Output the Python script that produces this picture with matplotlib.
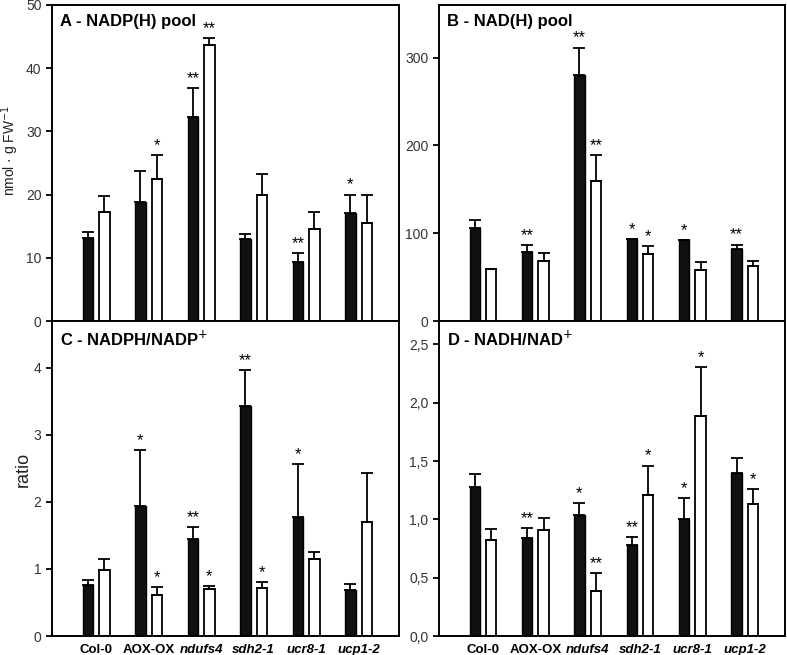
import matplotlib
matplotlib.use('Agg')
import matplotlib.pyplot as plt
import numpy as np

plt.rcParams['font.family'] = ['Liberation Sans', 'DejaVu Sans']

lines = ['Col-0', 'AOX-OX', 'ndufs4', 'sdh2-1', 'ucr8-1', 'ucp1-2']
italic = [False, False, True, True, True, True]

# A - NADP(H) pool
a_black = [13.2, 18.8, 32.2, 12.9, 9.3, 17.05]
a_black_err = [0.85, 5.0, 4.7, 0.9, 1.4, 2.95]
a_white = [17.3, 22.5, 43.7, 19.9, 14.6, 15.5]
a_white_err = [2.4, 3.8, 1.1, 3.3, 2.6, 4.5]
a_black_sig = ['', '', '**', '', '**', '*']
a_white_sig = ['', '*', '**', '', '', '']

# B - NAD(H) pool
b_black = [106, 78.6, 280, 93.4, 92, 82.4]
b_black_err = [8.7, 7.6, 31.4, 0, 0, 4.6]
b_white = [59.6, 68.4, 159.5, 76, 57.7, 62.7]
b_white_err = [0, 8.6, 29.3, 9, 9.9, 5.7]
b_black_sig = ['', '**', '**', '*', '*', '**']
b_white_sig = ['', '', '**', '*', '', '']

# C - NADPH/NADP+
c_black = [0.76, 1.94, 1.44, 3.43, 1.78, 0.68]
c_black_err = [0.075, 0.83, 0.19, 0.535, 0.79, 0.09]
c_white = [0.98, 0.615, 0.695, 0.72, 1.155, 1.705]
c_white_err = [0.165, 0.12, 0.055, 0.09, 0.095, 0.725]
c_black_sig = ['', '*', '**', '**', '*', '']
c_white_sig = ['', '*', '*', '*', '', '']

# D - NADH/NAD+
d_black = [1.277, 0.843, 1.034, 0.777, 1.0, 1.4]
d_black_err = [0.112, 0.08, 0.103, 0.069, 0.18, 0.126]
d_white = [0.826, 0.906, 0.389, 1.209, 1.889, 1.129]
d_white_err = [0.088, 0.108, 0.148, 0.251, 0.414, 0.128]
d_black_sig = ['', '**', '*', '**', '*', '']
d_white_sig = ['', '', '**', '*', '*', '*']

fig = plt.figure(figsize=(7.87, 6.55), dpi=100)
axA = fig.add_axes([0.0661, 0.5099, 0.4409, 0.4825])
axB = fig.add_axes([0.5578, 0.5099, 0.4397, 0.4825])
axC = fig.add_axes([0.0661, 0.029, 0.4409, 0.4809])
axD = fig.add_axes([0.5578, 0.029, 0.4397, 0.4809])

x = np.arange(len(lines))
w = 0.2
off = 0.157

def panel(ax, black, berr, white, werr, bsig, wsig, ylim, title, yticks):
    z = np.zeros(len(black))
    ax.bar(x - off, black, w, color='#111111', edgecolor='black', linewidth=1.0,
           yerr=[z, berr], capsize=4, error_kw=dict(elinewidth=1.3, capthick=1.3, ecolor='black'))
    ax.bar(x + off, white, w, color='white', edgecolor='black', linewidth=1.3,
           yerr=[z, werr], capsize=4, error_kw=dict(elinewidth=1.3, capthick=1.3, ecolor='black'))
    for i in range(len(black)):
        if bsig[i]:
            ax.annotate(bsig[i], (x[i] - off, black[i] + berr[i]), xytext=(0, 1.5),
                        textcoords='offset points', ha='center', va='bottom', fontsize=12)
        if wsig[i]:
            ax.annotate(wsig[i], (x[i] + off, white[i] + werr[i]), xytext=(0, 1.5),
                        textcoords='offset points', ha='center', va='bottom', fontsize=12)
    ax.set_xlim(-0.84, 5.77)
    ax.set_ylim(*ylim)
    ax.set_yticks(yticks)
    ax.set_xticks([])
    ax.tick_params(axis='y', direction='out', length=4, width=1.3, labelsize=10,
                   labelcolor='#333333')
    for s in ax.spines.values():
        s.set_linewidth(1.4)
    ax.text(0.023, 0.972, title, transform=ax.transAxes, ha='left', va='top',
            fontsize=12, fontweight='bold')

panel(axA, a_black, a_black_err, a_white, a_white_err, a_black_sig, a_white_sig,
      (0, 50), 'A - NADP(H) pool', [0, 10, 20, 30, 40, 50])
panel(axB, b_black, b_black_err, b_white, b_white_err, b_black_sig, b_white_sig,
      (0, 360), 'B - NAD(H) pool', [0, 100, 200, 300])
panel(axC, c_black, c_black_err, c_white, c_white_err, c_black_sig, c_white_sig,
      (0, 4.7), 'C - NADPH/NADP$^{+}$', [0, 1, 2, 3, 4])
panel(axD, d_black, d_black_err, d_white, d_white_err, d_black_sig, d_white_sig,
      (0, 2.7), 'D - NADH/NAD$^{+}$', [0, 0.5, 1.0, 1.5, 2.0, 2.5])

axD.set_yticklabels(['0,0', '0,5', '1,0', '1,5', '2,0', '2,5'])

axA.set_ylabel('nmol · g FW$^{-1}$', fontsize=10, color='#222222')
axA.yaxis.set_label_coords(-0.088, 0.54)
axC.set_ylabel('ratio', fontsize=13, color='#222222')
axC.yaxis.set_label_coords(-0.057, 0.53)

for ax in (axC, axD):
    ax.set_xticks(x)
    ax.set_xticklabels(lines, fontsize=9.5, fontweight='bold')
    ax.tick_params(axis='x', length=0, pad=6)
    for lab, it in zip(ax.get_xticklabels(), italic):
        if it:
            lab.set_fontstyle('italic')

fig.savefig('out.png', dpi=100)
